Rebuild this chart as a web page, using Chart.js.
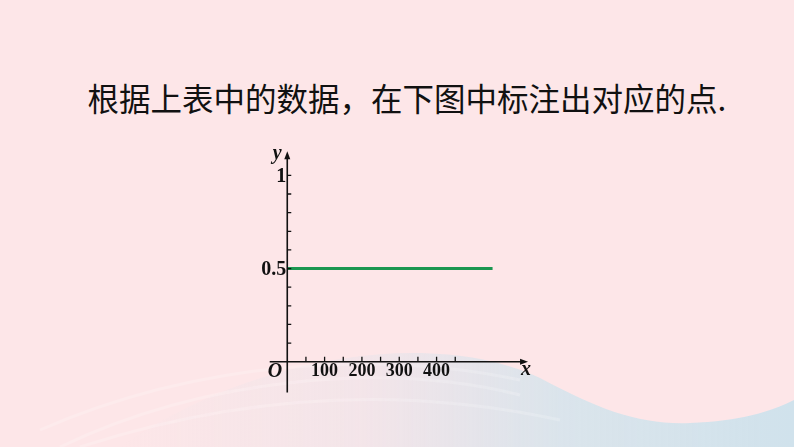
<!DOCTYPE html>
<html>
<head>
<meta charset="utf-8">
<script src="https://cdn.jsdelivr.net/npm/chart.js@4/dist/chart.umd.min.js"></script>
<style>
  html, body { margin: 0; padding: 0; }
  body {
    width: 794px; height: 447px; overflow: hidden; position: relative;
    background-color: #fde6e8;
    background-image: url("data:image/svg+xml;utf8,<svg xmlns='http://www.w3.org/2000/svg' width='794' height='447'><defs><linearGradient id='g' x1='0' y1='0' x2='1' y2='0'><stop offset='0' stop-color='%23d4e4ec' stop-opacity='0'/><stop offset='0.35' stop-color='%23d8e2ec' stop-opacity='0.25'/><stop offset='0.65' stop-color='%23d4e4ec' stop-opacity='0.85'/><stop offset='1' stop-color='%23d0e2ec' stop-opacity='1'/></linearGradient></defs><path d='M 120 447 C 260 350, 440 330, 540 378 C 600 410, 640 425, 690 423 C 740 421, 770 412, 794 400 L 794 447 Z' fill='url(%23g)'/><g fill='none' stroke='%23ffffff' stroke-opacity='0.18' stroke-width='3'><path d='M 60 447 C 200 380, 380 360, 520 395'/><path d='M 40 430 C 200 360, 380 350, 520 380'/><path d='M 80 447 C 240 395, 400 385, 560 420'/></g></svg>");
  }
  #title {
    position: absolute; left: 0; width: 814px; top: 78px; text-align: center;
    font-family: "Noto Sans CJK SC", sans-serif; font-size: 31.5px; line-height: 38px;
    color: #111;
  }
  #chart { position: absolute; left: 0; top: 0; }
</style>
</head>
<body>
<div id="title">根据上表中的数据，在下图中标注出对应的点.</div>
<canvas id="chart" width="794" height="447"></canvas>
<script>
// the green segment
const line_x = [0, 550];
const line_y = [0.5, 0.5];

// labelled ticks
const x_tick_values = [100, 200, 300, 400];
const x_tick_labels = ["100", "200", "300", "400"];
const y_tick_values = [0.5, 1];
const y_tick_labels = ["0.5", "1"];

// small tick marks
const x_minor_ticks = [50, 100, 150, 200, 250, 300, 350, 400, 450];
const y_minor_ticks = [0.1, 0.2, 0.3, 0.4, 0.5, 0.6, 0.7, 0.8, 0.9, 1];

// how far the axes run
const x_axis_from = -47;
const x_axis_to = 645;
const y_axis_from = -0.165;
const y_axis_to = 1.13;

const chart_canvas = document.getElementById("chart");
const chart_context = chart_canvas.getContext("2d");

function drawArrow(ctx, tip_x, tip_y, dir_x, dir_y){
    let len = 8;
    let half = 3;
    let base_x = tip_x - dir_x * len;
    let base_y = tip_y - dir_y * len;
    ctx.beginPath();
    ctx.moveTo(tip_x, tip_y);
    ctx.lineTo(base_x - dir_y * half, base_y + dir_x * half);
    ctx.lineTo(base_x + dir_y * half, base_y - dir_x * half);
    ctx.closePath();
    ctx.fill();
}

const axes_plugin = {
    id: "school_axes",
    afterDatasetsDraw(chart){
        const ctx = chart.ctx;
        const xs = chart.scales.x;
        const ys = chart.scales.y;
        const X = v => xs.getPixelForValue(v);
        const Y = v => ys.getPixelForValue(v);
        let ox = X(0);
        let oy = Y(0);

        ctx.save();
        ctx.strokeStyle = "#111";
        ctx.fillStyle = "#111";
        ctx.lineWidth = 1.6;

        ctx.beginPath();
        ctx.moveTo(X(x_axis_from), oy);
        ctx.lineTo(X(x_axis_to) - 4, oy);
        ctx.moveTo(ox, Y(y_axis_from));
        ctx.lineTo(ox, Y(y_axis_to) + 4);
        ctx.stroke();
        drawArrow(ctx, X(x_axis_to), oy, 1, 0);
        drawArrow(ctx, ox, Y(y_axis_to), 0, -1);

        ctx.lineWidth = 1.3;
        ctx.beginPath();
        for (let v of x_minor_ticks){
            ctx.moveTo(X(v), oy);
            ctx.lineTo(X(v), oy - 5);
        }
        for (let v of y_minor_ticks){
            ctx.moveTo(ox, Y(v));
            ctx.lineTo(ox + 4, Y(v));
        }
        ctx.stroke();

        ctx.textBaseline = "middle";
        ctx.font = "bold 18px 'Liberation Serif', 'Times New Roman', serif";
        ctx.textAlign = "center";
        x_tick_values.forEach((v, i) => ctx.fillText(x_tick_labels[i], X(v), oy + 10));
        ctx.font = "bold 20px 'Liberation Serif', 'Times New Roman', serif";
        ctx.textAlign = "right";
        y_tick_values.forEach((v, i) => ctx.fillText(y_tick_labels[i], ox - 1, Y(v) + 1));

        ctx.font = "italic bold 20px 'Liberation Serif', 'Times New Roman', serif";
        ctx.textAlign = "right";
        ctx.fillText("O", ox - 5, oy + 10);
        ctx.textAlign = "center";
        ctx.fillText("x", X(x_axis_to) - 2, oy + 8);
        ctx.fillText("y", ox - 10, Y(y_axis_to) + 3);
        ctx.restore();
    }
};

var line_chart = new Chart(chart_context, {
    type: "line",
    data: {
        datasets: [{
            label: "y",
            data: line_x.map((v, i) => ({ x: v, y: line_y[i] })),
            borderColor: "#1a9650",
            backgroundColor: "#1a9650",
            borderWidth: 3,
            pointRadius: 0,
            clip: false
        }]
    },
    options: {
        responsive: false,
        animation: false,
        devicePixelRatio: 1,
        layout: {
            padding: { left: 268.6, right: 264.1, top: 138.1, bottom: 48 }
        },
        plugins: {
            legend: { display: false },
            tooltip: { enabled: false },
            title: { display: false }
        },
        scales: {
            x: { type: "linear", min: -50, max: 650, display: false },
            y: { type: "linear", min: -0.2, max: 1.2, display: false }
        }
    },
    plugins: [axes_plugin]
});
</script>
</body>
</html>
